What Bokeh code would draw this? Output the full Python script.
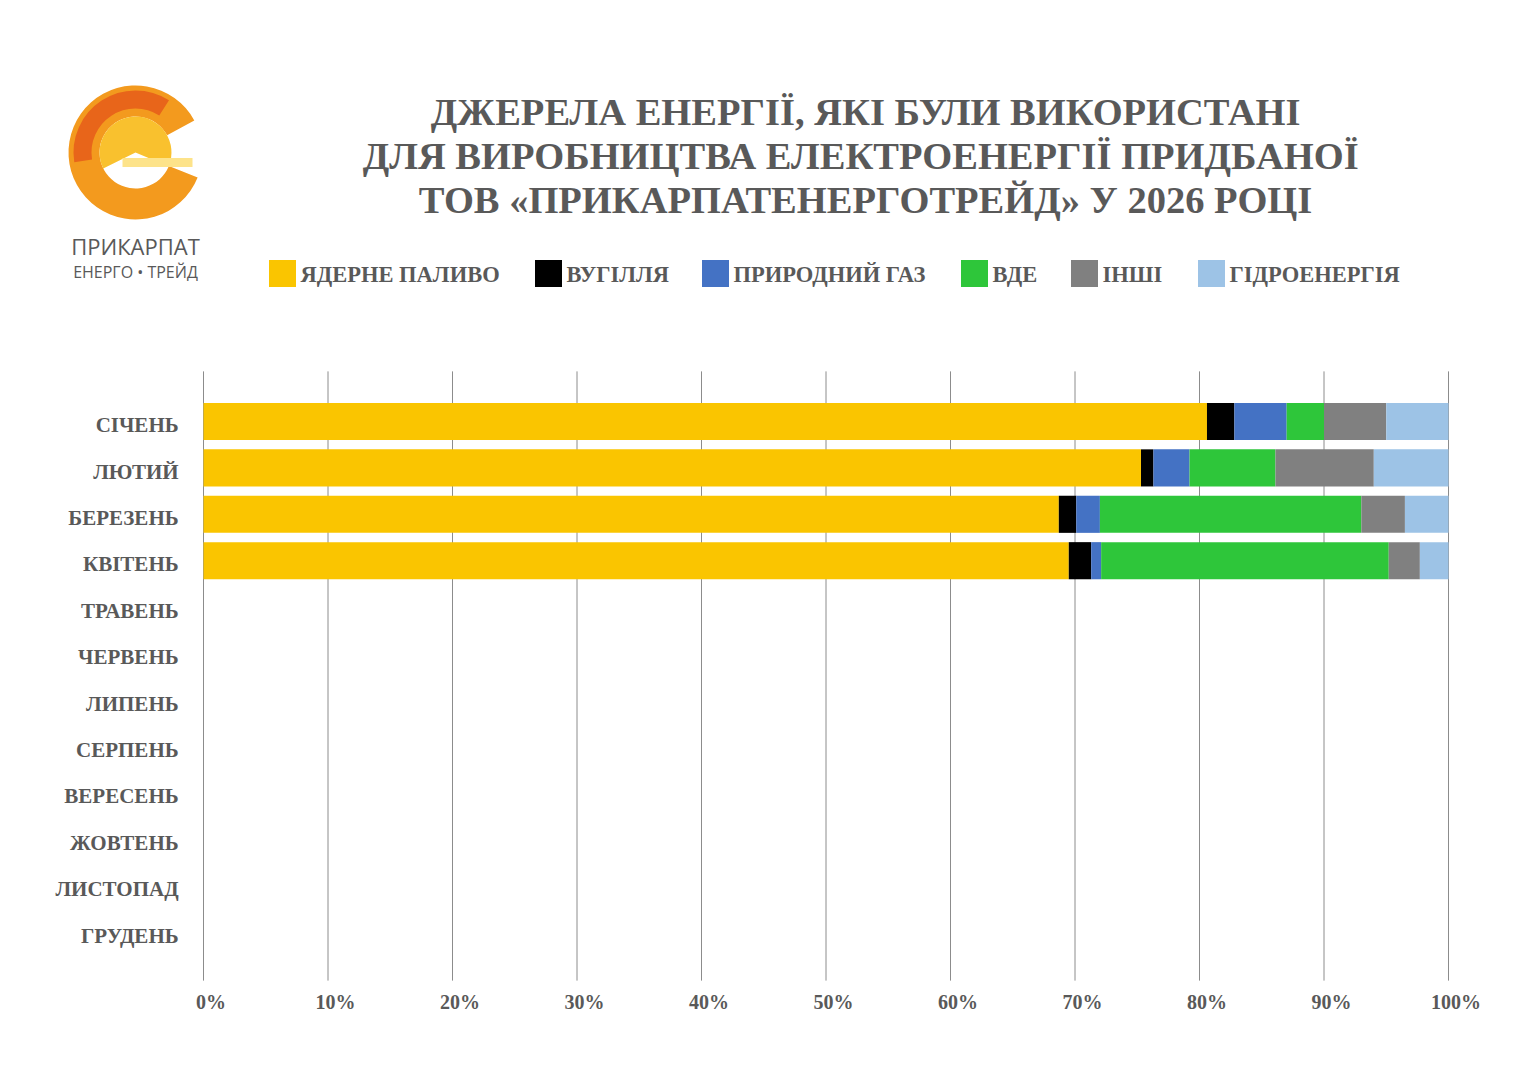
from bokeh.plotting import figure
from bokeh.models import Range1d
from bokeh.core.properties import value
from bokeh.embed import file_html
from bokeh.resources import INLINE

months = ["СІЧЕНЬ","ЛЮТИЙ","БЕРЕЗЕНЬ","КВІТЕНЬ","ТРАВЕНЬ","ЧЕРВЕНЬ","ЛИПЕНЬ","СЕРПЕНЬ","ВЕРЕСЕНЬ","ЖОВТЕНЬ","ЛИСТОПАД","ГРУДЕНЬ"]
series = ["ЯДЕРНЕ ПАЛИВО","ВУГІЛЛЯ","ПРИРОДНИЙ ГАЗ","ВДЕ","ІНШІ","ГІДРОЕНЕРГІЯ"]
colors = ["#FAC500","#000000","#4472C4","#2EC63A","#808080","#9DC3E6"]
nuclear = [80.6, 75.3, 68.7, 69.5]
coal    = [2.2, 1.0, 1.4, 1.8]
gas     = [4.2, 2.9, 1.9, 0.8]
res     = [3.0, 6.9, 21.0, 23.1]
other   = [5.0, 7.9, 3.5, 2.5]
hydro   = [5.0, 6.0, 3.5, 2.3]
data = [nuclear, coal, gas, res, other, hydro]
xticks = list(range(0, 101, 10))
xtick_labels = [f"{t}%" for t in xticks]
title_lines = ["ДЖЕРЕЛА ЕНЕРГІЇ, ЯКІ БУЛИ ВИКОРИСТАНІ",
               "ДЛЯ ВИРОБНИЦТВА ЕЛЕКТРОЕНЕРГІЇ  ПРИДБАНОЇ",
               "ТОВ «ПРИКАРПАТЕНЕРГОТРЕЙД» У 2026 РОЦІ"]
GRAY = "#595959"
SERIF = value("Liberation Serif")

W, H = 1511, 1064
p = figure(width=W, height=H, x_range=Range1d(0, W), y_range=Range1d(H, 0),
           output_backend="svg", toolbar_location=None, min_border=0)
p.axis.visible = False; p.grid.visible = False; p.outline_line_color = None
x0p, x1p = 203, 1448
k = (x1p - x0p) / 100
r1, dr = 421, 46.4
p.extra_x_ranges = {"pct": Range1d(-x0p / k, (W - x0p) / k)}
p.extra_y_ranges = {"row": Range1d(1 + (H - r1) / dr, 1 - r1 / dr)}

p.segment(x0=xticks, x1=xticks, y0=[-0.08] * 11, y1=[13.05] * 11, x_range_name="pct", y_range_name="row",
          line_color="#8c8c8c", line_width=1)
ys = list(range(1, len(nuclear) + 1))
left = [0.0] * len(ys)
for vals, c in zip(data, colors):
    right = [l + v for l, v in zip(left, vals)]
    p.hbar(y=ys, left=left, right=right, height=0.8, fill_color=c, line_color=None,
           x_range_name="pct", y_range_name="row")
    left = right
p.text(x=[-2.0] * 12, y=[i + 0.08 for i in range(1, 13)], text=months, x_range_name="pct", y_range_name="row",
       text_font=SERIF, text_font_style="bold", text_font_size="21px", text_color=GRAY,
       text_align="right", text_baseline="middle")
p.text(x=[t + 0.6 for t in xticks], y=[13.5] * 11, text=xtick_labels, x_range_name="pct", y_range_name="row",
       text_font=SERIF, text_font_style="bold", text_font_size="20px", text_color=GRAY,
       text_align="center", text_baseline="middle")

for i, t in enumerate(title_lines):
    p.text(x=[865], y=[111 + i * 44], text=[t], text_font=SERIF, text_font_style="bold",
           text_font_size="38.5px", text_color=GRAY, text_align="center", text_baseline="middle")
lx = [268, 534, 701, 960, 1070, 1197]
for x0, s, c in zip(lx, series, colors):
    p.rect(x=[x0 + 14], y=[273], width=27, height=27, fill_color=c, line_color=None)
    p.text(x=[x0 + 32], y=[274], text=[s], text_font=SERIF, text_font_style="bold",
           text_font_size="22.5px", text_color=GRAY, text_baseline="middle")
# logo
cx, cy = 135, 152
p.annular_wedge(x=[cx], y=[cy], inner_radius=36, outer_radius=67, start_angle=0.5, end_angle=5.9,
                fill_color="#F39A1E", line_color=None)
p.annular_wedge(x=[cx], y=[cy], inner_radius=44, outer_radius=62, start_angle=1.0, end_angle=3.3,
                fill_color="#E8651A", line_color=None)
p.wedge(x=[cx], y=[cy], radius=36, start_angle=-0.4, end_angle=3.6, fill_color="#F9C12E", line_color=None)
p.rect(x=[cx + 22], y=[cy + 10], width=70, height=9, fill_color="#FDE38A", line_color=None)
p.text(x=[cx], y=[245], text=["ПРИКАРПАТ"], text_font=value("Open Sans"), text_font_size="22px",
       text_color=GRAY, text_align="center", text_baseline="middle")
p.text(x=[cx], y=[271], text=["ЕНЕРГО • ТРЕЙД"], text_font=value("Open Sans"), text_font_size="16px",
       text_color=GRAY, text_align="center", text_baseline="middle")

open("out.html", "w").write(file_html(p, INLINE))
